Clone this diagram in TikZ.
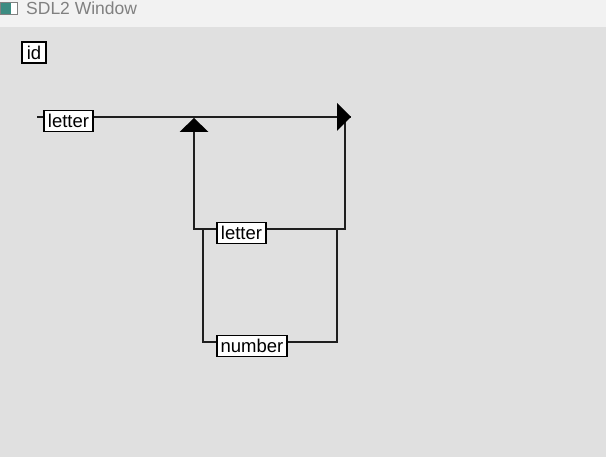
\documentclass[tikz,border=0pt]{standalone}
\usepackage{fontspec}
\setmainfont{Liberation Sans}
\definecolor{canvasbg}{RGB}{224,224,224}
\definecolor{titlebg}{RGB}{242,242,242}
\definecolor{titletext}{RGB}{128,128,128}
\definecolor{wirecol}{RGB}{30,30,30}
\definecolor{iconcol}{RGB}{60,140,130}
\begin{document}
\begin{tikzpicture}[x=1pt,y=-1pt,
  term/.style={draw=black, line width=1.3pt, fill=white, inner sep=0pt,
    minimum height=21pt, font=\fontsize{18.5}{18.5}\selectfont},
  wire/.style={line width=1.6pt, draw=wirecol},
  headtip/.style={fill=black}
]
\useasboundingbox (0,0) rectangle (606,457);
\fill[canvasbg] (0,0) rectangle (606,457);
\fill[titlebg] (0,0) rectangle (606,27);
% window icon
\fill[iconcol] (0,2) rectangle (11,14);
\fill[white] (11,2) rectangle (17,14);
\draw[gray, line width=0.6pt] (0,2) rectangle (17,14);
\node[anchor=west, text=titletext, font=\fontsize{17.5}{17.5}\selectfont, inner sep=0pt] (title) at (26,8) {SDL2 Window};

% terminals
\node[term, minimum width=24pt] (id) at (34,52.5) {id};
\node[term, minimum width=49pt] (l1) at (68.5,121) {letter};
\node[term, minimum width=49pt] (l2) at (241.5,233) {letter};
\node[term, minimum width=70pt] (num) at (252,346) {number};

% junction coordinates
\coordinate (s) at (37,117);
\coordinate (up) at (194,117);
\coordinate (rt) at (345,117);
\coordinate (tip) at (351,117);
\coordinate (a1) at (194,229);
\coordinate (b1) at (345,229);
\coordinate (a2) at (203,229);
\coordinate (b2) at (337,229);
\coordinate (a3) at (203,342);
\coordinate (b3) at (337,342);
\coordinate (upb) at (194,132);

% connectors
\draw[wire] (s) -- (s -| l1.west);
\draw[wire] (s -| l1.east) -- (tip);
\draw[wire] (upb) -- (a1) -- (a1 -| l2.west);
\draw[wire] (a1 -| l2.east) -- (b1) -- (rt);
\draw[wire] (a2) -- (a3) -- (a3 -| num.west);
\draw[wire] (a3 -| num.east) -- (b3) -- (b2);

% arrowheads
\fill[headtip] (tip) -- ++(-14,-14) -- ++(0,28) -- cycle;
\fill[headtip] (up) ++(0,1) -- ++(-14.5,14) -- ++(29,0) -- cycle;
\end{tikzpicture}
\end{document}
